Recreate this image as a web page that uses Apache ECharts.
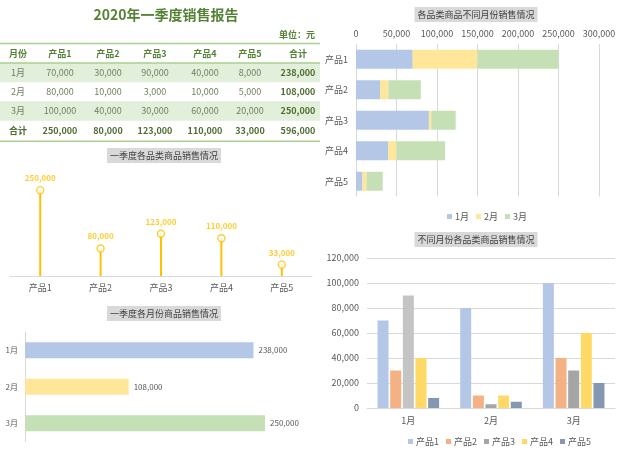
<!DOCTYPE html>
<html>
<head>
<meta charset="utf-8">
<script src="https://cdn.jsdelivr.net/npm/echarts@6/dist/echarts.min.js"></script>
<style>
html,body{margin:0;padding:0;background:#fff;}
#c{width:640px;height:454px;}
</style>
</head>
<body>
<div id="c"></div>
<script>
// ---- data ----
const months = ['1月', '2月', '3月'];
const products = ['产品1', '产品2', '产品3', '产品4', '产品5'];
const janSales = [70000, 30000, 90000, 40000, 8000];
const febSales = [80000, 10000, 3000, 10000, 5000];
const marSales = [100000, 40000, 30000, 60000, 20000];
const productTotals = [250000, 80000, 123000, 110000, 33000];
const monthTotals = [238000, 108000, 250000];
const grandTotal = 596000;
const tableHeader = ['月份', '产品1', '产品2', '产品3', '产品4', '产品5', '合计'];
const reportTitle = '2020年一季度销售报告';
const unitText = '单位：元';

// ---- styles ----
const FONT = '"Noto Sans CJK SC", "Noto Sans", sans-serif';
const monthColors = ['#b4c7e7', '#ffe699', '#c5e0b4'];
const productColors = ['#b4c7e7', '#f4b183', '#a5a5a5', '#ffd966', '#8497b0'];
const fmt = v => Number(v).toLocaleString('en-US');
const axisText = '#595959';
const gridLine = '#d9d9d9';

// ---- table (graphic) ----
const colX = [18, 60, 108, 155, 205, 250, 298];
const rowY = [53.5, 72.5, 91.8, 111, 130.8];
const green = '#548235';
const cellColor = '#6f8060';
const graphics = [];
graphics.push({type: 'rect', shape: {x: 0, y: 63, width: 320, height: 19.3}, style: {fill: '#e2efda'}, silent: true});
graphics.push({type: 'rect', shape: {x: 0, y: 101.3, width: 320, height: 19.5}, style: {fill: '#e2efda'}, silent: true});
[43.5, 63, 141.3].forEach(y => graphics.push({type: 'line', shape: {x1: 0, y1: y, x2: 320, y2: y}, style: {stroke: '#a9d08e', lineWidth: 1.6}, silent: true}));
function addText(x, y, t, bold, color) {
  graphics.push({type: 'text', x: x, y: y, style: {text: t, textAlign: 'center', textVerticalAlign: 'middle', fill: color, font: (bold ? 'bold ' : '') + '9px ' + FONT}, silent: true});
}
tableHeader.forEach((h, i) => addText(colX[i], rowY[0], h, true, green));
const monthRows = [janSales, febSales, marSales];
months.forEach((m, r) => {
  addText(colX[0], rowY[r + 1], m, false, cellColor);
  monthRows[r].forEach((v, i) => addText(colX[i + 1], rowY[r + 1], fmt(v), false, cellColor));
  addText(colX[6], rowY[r + 1], fmt(monthTotals[r]), true, '#4e6b30');
});
addText(colX[0], rowY[4], '合计', true, '#4e6b30');
productTotals.forEach((v, i) => addText(colX[i + 1], rowY[4], fmt(v), true, '#4e6b30'));
addText(colX[6], rowY[4], fmt(grandTotal), true, '#4e6b30');
graphics.push({type: 'text', x: 315, y: 34.5, style: {text: unitText, textAlign: 'right', textVerticalAlign: 'middle', fill: green, font: 'bold 9px ' + FONT}, silent: true});

const chartTitle = (text, x, y) => ({
  text: text, left: x, top: y, textAlign: 'center',
  backgroundColor: '#d9d9d9', padding: [3, 3],
  textStyle: {fontSize: 9, color: '#404040', fontWeight: 'normal', fontFamily: FONT}
});

const chart = echarts.init(document.getElementById('c'));
chart.setOption({
  animation: false,
  textStyle: {fontFamily: FONT},
  title: [
    {text: reportTitle, left: 161, top: 3, textAlign: 'center', textStyle: {fontSize: 14, fontWeight: 'bold', color: green, fontFamily: FONT}},
    chartTitle('一季度各品类商品销售情况', 161, 148),
    chartTitle('一季度各月份商品销售情况', 161, 306),
    chartTitle('各品类商品不同月份销售情况', 473, 7),
    chartTitle('不同月份各品类商品销售情况', 473, 232)
  ],
  graphic: graphics,
  legend: [
    {data: months, left: 442, top: 207, itemWidth: 5, itemHeight: 5, itemGap: 7, icon: 'rect',
     textStyle: {fontSize: 9, color: axisText, padding: [0, 0, 0, -2]}},
    {data: products, left: 403, top: 432, itemWidth: 5, itemHeight: 5, itemGap: 7, icon: 'rect',
     textStyle: {fontSize: 9, color: axisText, padding: [0, 0, 0, -2]}}
  ],
  grid: [
    {left: 10, width: 302, top: 173, height: 103},
    {left: 25, width: 288, top: 332, height: 109.5},
    {left: 356, width: 243, top: 44, height: 152.5},
    {left: 367, width: 248, top: 258, height: 150}
  ],
  xAxis: [
    {gridIndex: 0, type: 'category', data: products, axisLine: {lineStyle: {color: gridLine}}, axisTick: {show: false},
     axisLabel: {fontSize: 9, color: axisText, margin: 7}},
    {gridIndex: 1, type: 'value', min: 0, max: 300000, show: false},
    {gridIndex: 2, type: 'value', position: 'top', min: 0, max: 300000, interval: 50000,
     axisLine: {show: false}, axisTick: {show: false}, splitLine: {lineStyle: {color: gridLine}},
     axisLabel: {fontSize: 9, color: axisText, margin: 6, formatter: v => fmt(v)}},
    {gridIndex: 3, type: 'category', data: months, axisLine: {lineStyle: {color: gridLine}}, axisTick: {show: false},
     axisLabel: {fontSize: 9, color: axisText, margin: 8}}
  ],
  yAxis: [
    {gridIndex: 0, type: 'value', min: 0, max: 300000, show: false},
    {gridIndex: 1, type: 'category', data: months, inverse: true, axisLine: {lineStyle: {color: gridLine}}, axisTick: {show: false},
     axisLabel: {fontSize: 8, color: axisText, margin: 7}},
    {gridIndex: 2, type: 'category', data: products, inverse: true, axisLine: {show: false}, axisTick: {show: false},
     axisLabel: {fontSize: 9, color: axisText, margin: 8}},
    {gridIndex: 3, type: 'value', min: 0, max: 120000, interval: 20000, axisLine: {show: false}, axisTick: {show: false},
     splitLine: {lineStyle: {color: gridLine}}, axisLabel: {fontSize: 9, color: axisText, margin: 8, formatter: v => fmt(v)}}
  ],
  series: [
    {name: '品类合计线', type: 'bar', xAxisIndex: 0, yAxisIndex: 0, data: productTotals, barWidth: 2,
     itemStyle: {color: '#ffc000'}, silent: true, z: 2},
    {name: '品类合计', type: 'scatter', xAxisIndex: 0, yAxisIndex: 0, data: productTotals, symbol: 'circle', symbolSize: 7,
     itemStyle: {color: '#fff', borderColor: '#ffc000', borderWidth: 1.4}, z: 3,
     label: {show: true, position: 'top', distance: 4, fontSize: 8, fontWeight: 'bold', color: '#ffc000', formatter: p => fmt(p.value)}},
    {name: '月合计', type: 'bar', xAxisIndex: 1, yAxisIndex: 1, barWidth: 16,
     data: monthTotals.map((v, i) => ({value: v, itemStyle: {color: monthColors[i]}})),
     label: {show: true, position: 'right', distance: 5, fontSize: 8, color: axisText, formatter: p => fmt(p.value)}},
    ...[janSales, febSales, marSales].map((arr, i) => ({
      name: months[i], type: 'bar', stack: 'm', xAxisIndex: 2, yAxisIndex: 2, barWidth: 19,
      itemStyle: {color: monthColors[i]}, data: arr
    })),
    ...products.map((p, i) => ({
      name: p, type: 'bar', xAxisIndex: 3, yAxisIndex: 3, barWidth: 11, barGap: '15%',
      itemStyle: {color: productColors[i]},
      data: [janSales[i], febSales[i], marSales[i]].map((v, m) => (i === 2 && m === 0) ? {value: v, itemStyle: {color: '#c4c4c4'}} : v)
    }))
  ]
});
</script>
</body>
</html>
